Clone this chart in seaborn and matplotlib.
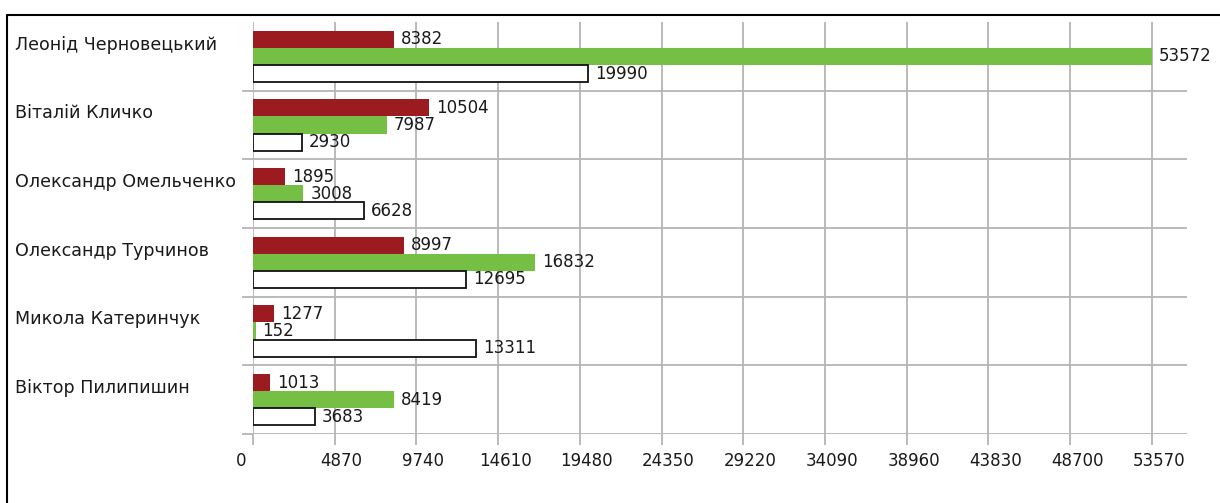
import numpy as np
import pandas as pd
import matplotlib
matplotlib.use('Agg')
import matplotlib.pyplot as plt
import matplotlib.transforms as mtransforms
from matplotlib.lines import Line2D
import seaborn as sns

# Data
candidates = ['Леонід Черновецький', 'Віталій Кличко', 'Олександр Омельченко',
              'Олександр Турчинов', 'Микола Катеринчук', 'Віктор Пилипишин']
series_names = ['Серія 1', 'Серія 2', 'Серія 3']
series_1 = [8382, 10504, 1895, 8997, 1277, 1013]
series_2 = [53572, 7987, 3008, 16832, 152, 8419]
series_3 = [19990, 2930, 6628, 12695, 13311, 3683]
x_ticks = [0, 4870, 9740, 14610, 19480, 24350, 29220, 34090, 38960, 43830, 48700, 53570]
colors = ['#9b1b20', '#74bf44', '#ffffff']

df = pd.DataFrame({
    'candidate': candidates * 3,
    'series': np.repeat(series_names, len(candidates)),
    'value': series_1 + series_2 + series_3,
})

sns.set_style('white')
plt.rcParams['font.family'] = ['DejaVu Sans']

fig = plt.figure(figsize=(12.2, 5.03), dpi=100)
ax = fig.add_axes([253 / 1220, 1 - 434 / 503, (1187 - 253) / 1220, (434 - 22) / 503])

sns.barplot(data=df, y='candidate', x='value', hue='series', order=candidates,
            hue_order=series_names, palette=colors, width=0.75, orient='h',
            linewidth=0, saturation=1, legend=False, ax=ax, zorder=3)

# white series gets a black outline
for patch in ax.containers[2]:
    patch.set_edgecolor('#111111')
    patch.set_linewidth(1.3)

for cont in ax.containers:
    ax.bar_label(cont, padding=5, fontsize=12, color='#1a1a1a')

n = len(candidates)
ax.set_xlim(0, 55670)
ax.set_ylim(n - 0.5, -0.5)
ax.set_xlabel('')
ax.set_ylabel('')

grid_kw = dict(color='#b4b4b4', linewidth=1.3)
ax.set_xticks(x_ticks)
ax.set_xticklabels([str(t) for t in x_ticks], fontsize=12, color='#1a1a1a')
ax.tick_params(axis='x', length=8, width=1.3, color='#b4b4b4', pad=5, bottom=True)
ax.grid(axis='x', zorder=0, **grid_kw)

# separators between candidates
ax.set_yticks([])
ax.set_yticks(np.arange(n) + 0.5, minor=True)
ax.tick_params(axis='y', which='minor', length=8, width=1.3, color='#b4b4b4', left=True)
ax.grid(axis='y', which='minor', zorder=0, **grid_kw)
ax.set_axisbelow(True)

for lab, t in zip(ax.get_xticklabels(), x_ticks):
    dx = -12 if t == 0 else 7
    lab.set_transform(lab.get_transform() + mtransforms.ScaledTranslation(dx / 100, 0, fig.dpi_scale_trans))

for s in ax.spines.values():
    s.set_visible(False)

# candidate names, left aligned near the frame
trans = mtransforms.blended_transform_factory(fig.transFigure, ax.transData)
for i, name in enumerate(candidates):
    ax.text(15 / 1220, i - 0.17, name, transform=trans, ha='left', va='center',
            fontsize=12.6, color='#1a1a1a')

# outer frame (top and left edge)
fig.add_artist(Line2D([7 / 1220, 1], [1 - 15 / 503, 1 - 15 / 503], color='black', linewidth=1.5))
fig.add_artist(Line2D([7 / 1220, 7 / 1220], [0, 1 - 15 / 503], color='black', linewidth=1.5))

fig.savefig('out.png', dpi=100)
